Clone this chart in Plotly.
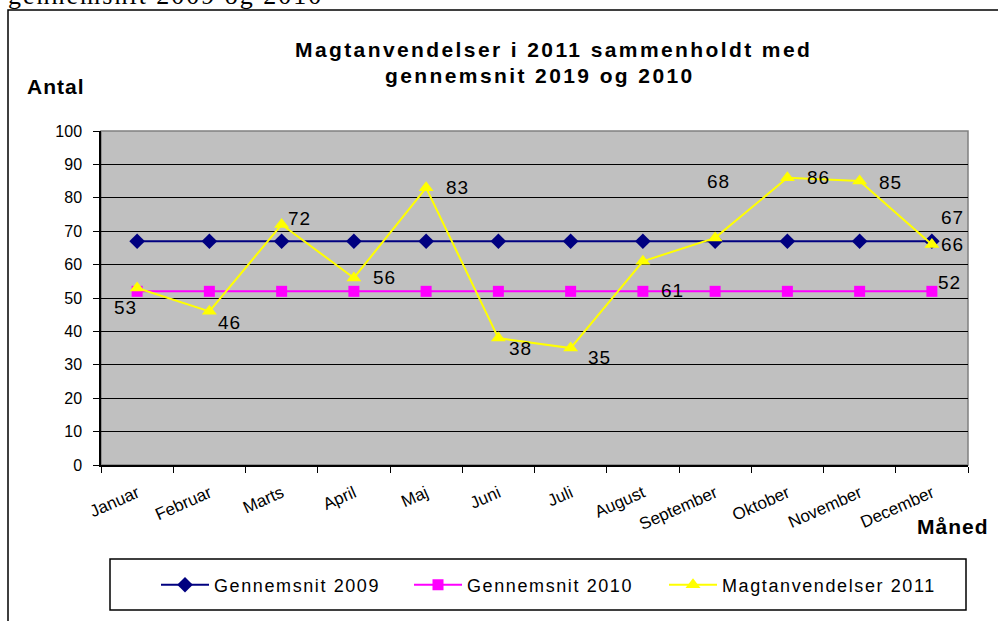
import plotly.graph_objects as go

months = ["Januar", "Februar", "Marts", "April", "Maj", "Juni", "Juli",
          "August", "September", "Oktober", "November", "December"]
avg_2009 = [67] * 12
avg_2010 = [52] * 12
magt_2011 = [53, 46, 72, 56, 83, 38, 35, 61, 68, 86, 85, 66]
y_ticks = [0, 10, 20, 30, 40, 50, 60, 70, 80, 90, 100]

# label offsets (pixels) for the 2011 data labels
lbl_dx = [-12, 20, 18, 31, 31, 22, 29, 30, 3, 31, 31, 21]
lbl_dy = [-20, -11, 6, 0, 0, -10, -9, -29, 56, 0, -1, 0]

FONT = "Liberation Sans, Arial, sans-serif"


def sp(txt, px):
    return '<span style="letter-spacing:%spx">%s</span>' % (px, txt)


fig = go.Figure()
fig.add_trace(go.Scatter(x=months, y=avg_2009, mode="lines+markers",
                         name=sp("Gennemsnit 2009", 1.6), legend="legend",
                         line=dict(color="#000080", width=2),
                         marker=dict(symbol="diamond", size=12, color="#000080")))
fig.add_trace(go.Scatter(x=months, y=avg_2010, mode="lines+markers",
                         name=sp("Gennemsnit 2010", 1.6), legend="legend2",
                         line=dict(color="#FF00FF", width=2),
                         marker=dict(symbol="square", size=11, color="#FF00FF")))
fig.add_trace(go.Scatter(x=months, y=magt_2011, mode="lines+markers",
                         name=sp("Magtanvendelser 2011", 1.6), legend="legend3",
                         line=dict(color="#FFFF00", width=2),
                         marker=dict(symbol="triangle-up", size=13, color="#FFFF00")))

LBL = dict(family=FONT, size=19, color="black")
ann = []
for m, v, dx, dy in zip(months, magt_2011, lbl_dx, lbl_dy):
    ann.append(dict(x=m, y=v, xref="x", yref="y", text=sp(v, 1), showarrow=False,
                    xshift=dx, yshift=dy, font=LBL))
ann.append(dict(x=months[-1], y=avg_2009[-1], xref="x", yref="y", text=sp(avg_2009[-1], 1),
                showarrow=False, xshift=21, yshift=24, font=LBL))
ann.append(dict(x=months[-1], y=avg_2010[-1], xref="x", yref="y", text=sp(avg_2010[-1], 1),
                showarrow=False, xshift=18, yshift=9, font=LBL))


def px_x(p):
    return (p - 101) / 867


def px_y(p):
    return (465 - p) / 334


TITLE = dict(family=FONT, size=21, color="black")
ann.append(dict(x=px_x(553), y=px_y(50), xref="paper", yref="paper",
                text="<b>" + sp("Magtanvendelser i 2011 sammenholdt med", 2.4) + "</b>",
                showarrow=False, xanchor="center", yanchor="middle", font=TITLE))
ann.append(dict(x=px_x(540), y=px_y(75), xref="paper", yref="paper",
                text="<b>" + sp("gennemsnit 2019 og 2010", 2.4) + "</b>",
                showarrow=False, xanchor="center", yanchor="middle", font=TITLE))
ann.append(dict(x=px_x(56), y=px_y(86), xref="paper", yref="paper",
                text="<b>" + sp("Antal", 1) + "</b>", showarrow=False,
                xanchor="center", yanchor="middle", font=TITLE))
ann.append(dict(x=px_x(953), y=px_y(526), xref="paper", yref="paper",
                text="<b>" + sp("Måned", 1) + "</b>", showarrow=False,
                xanchor="center", yanchor="middle", font=TITLE))
# clipped caption text at the very top
ann.append(dict(x=px_x(6), y=px_y(12), xref="paper", yref="paper",
                text=sp("gennemsnit 2009 og 2010", 2), showarrow=False,
                xanchor="left", yanchor="bottom",
                font=dict(family="Liberation Serif, Times New Roman, serif", size=26, color="black")))

shapes = [
    dict(type="rect", xref="paper", yref="paper",
         x0=px_x(8), x1=px_x(1010), y0=px_y(640), y1=px_y(10),
         line=dict(color="black", width=1.5), fillcolor="rgba(0,0,0,0)", layer="below"),
    dict(type="rect", xref="paper", yref="paper", x0=0, x1=1, y0=0, y1=1,
         line=dict(color="#808080", width=1.5), fillcolor="rgba(0,0,0,0)", layer="below"),
    dict(type="rect", xref="paper", yref="paper",
         x0=px_x(110), x1=px_x(966), y0=px_y(610), y1=px_y(559),
         line=dict(color="black", width=1.5), fillcolor="white", layer="below"),
]


def leg(xpx):
    return dict(orientation="h", x=px_x(xpx), y=px_y(585),
                xanchor="left", yanchor="middle",
                borderwidth=0, bgcolor="rgba(0,0,0,0)",
                font=dict(family=FONT, size=18, color="black"),
                itemwidth=48)


fig.update_layout(
    width=998, height=621,
    margin=dict(l=101, r=30, t=131, b=156),
    paper_bgcolor="white",
    plot_bgcolor="#C0C0C0",
    showlegend=True,
    legend=leg(156), legend2=leg(409), legend3=leg(664),
    annotations=ann,
    shapes=shapes,
    font=dict(family=FONT, color="black"),
)
fig.update_xaxes(type="category", tickson="boundaries", ticks="outside", ticklen=6,
                 tickcolor="black", showline=True, linecolor="black", linewidth=1.5,
                 tickangle=-24, ticklabelstandoff=10,
                 tickfont=dict(family=FONT, size=17, color="black"),
                 showgrid=False, range=[-0.5, 11.5])
fig.update_yaxes(range=[0, 100], tickvals=y_ticks, ticks="outside", ticklen=6,
                 tickcolor="black", showline=True, linecolor="black", linewidth=1.5,
                 showgrid=True, gridcolor="black", gridwidth=1, zeroline=False,
                 ticklabelstandoff=8,
                 tickfont=dict(family=FONT, size=16, color="black"))

fig.write_html("out.html", post_script="document.body.style.margin='0';",
               config={"displayModeBar": False})
